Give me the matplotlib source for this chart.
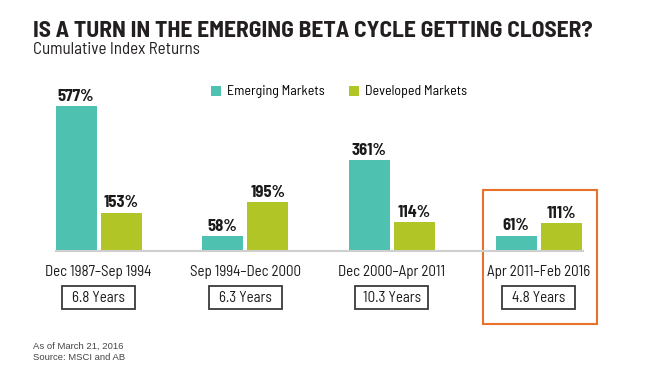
import matplotlib.pyplot as plt
from matplotlib.patches import Rectangle
import matplotlib.transforms as mtransforms

# data
periods = ["Dec 1987–Sep 1994", "Sep 1994–Dec 2000", "Dec 2000–Apr 2011", "Apr 2011–Feb 2016"]
years = ["6.8 Years", "6.3 Years", "10.3 Years", "4.8 Years"]
emerging = [577, 58, 361, 61]
developed = [153, 195, 114, 111]

em_color = "#4fc1b1"
dm_color = "#b2c526"
orange = "#e8712b"

plt.rcParams["font.family"] = ["Barlow Semi Condensed", "DejaVu Sans"]

W, H = 651, 389
fig = plt.figure(figsize=(W / 100, H / 100), dpi=100)

# axes placed in pixel terms: baseline at y=251, left 56, right 583
ax_l, ax_r, ax_b, ax_t = 56, 583, 251, 60
ax = fig.add_axes([ax_l / W, 1 - ax_b / H, (ax_r - ax_l) / W, (ax_b - ax_t) / H])

unit = 146.7
x0 = 98.5
ax.set_xlim((ax_l - x0) / unit, (ax_r - x0) / unit)
px_per_pct = 145 / 577
ax.set_ylim(0, (ax_b - ax_t) / px_per_pct)

bw = 41 / unit
off = bw / 2 + 2 / unit
xs = list(range(len(periods)))
ax.bar([x - off for x in xs], emerging, width=bw, color=em_color, label="Emerging Markets")
ax.bar([x + off for x in xs], developed, width=bw, color=dm_color, label="Developed Markets")

for x, v in zip(xs, emerging):
    ax.text(x - off, v + 9, f"{v}%", ha="center", va="bottom", fontsize=12, fontweight="bold", color="#1a1a1a")
for x, v in zip(xs, developed):
    ax.text(x + off, v + 9, f"{v}%", ha="center", va="bottom", fontsize=12, fontweight="bold", color="#1a1a1a")

for s in ["top", "right", "left"]:
    ax.spines[s].set_visible(False)
ax.spines["bottom"].set_color("#cfcfcf")
ax.spines["bottom"].set_linewidth(1.5)
ax.set_yticks([])
ax.set_xticks(xs)
ax.set_xticklabels(periods, fontsize=10.8, color="#1a1a1a")
ax.tick_params(axis="x", length=0, pad=10)

trans = mtransforms.blended_transform_factory(ax.transData, ax.transAxes)
ah = ax_b - ax_t
bx_w = 73 / unit
for x, lab in zip(xs, years):
    y_top = (ax_b - 286) / ah
    y_bot = (ax_b - 309) / ah
    ax.add_patch(Rectangle((x - bx_w / 2, y_bot), bx_w, y_top - y_bot, transform=trans,
                           fill=False, edgecolor="#3a3a3a", linewidth=1.3, clip_on=False))
    ax.text(x, (y_top + y_bot) / 2, lab, transform=trans, ha="center", va="center",
            fontsize=10.8, color="#1a1a1a")

# orange highlight box around last period
ox0 = (483 - x0) / unit
ox1 = (597 - x0) / unit
oy0 = (ax_b - 324) / ah
oy1 = (ax_b - 190) / ah
ax.add_patch(Rectangle((ox0, oy0), ox1 - ox0, oy1 - oy0, transform=trans, fill=False,
                       edgecolor=orange, linewidth=1.5, clip_on=False))

leg = fig.legend(loc="center", bbox_to_anchor=(339 / W, 1 - 92 / H), ncol=2, frameon=False,
                 fontsize=10, handlelength=0.7, handleheight=0.7, handletextpad=0.4,
                 columnspacing=1.8)

fig.text(33 / W, 1 - 31 / H, "IS A TURN IN THE EMERGING BETA CYCLE GETTING CLOSER?",
         fontsize=16.9, fontweight="bold", color="#231f20", va="center", ha="left")
fig.text(33 / W, 1 - 50 / H, "Cumulative Index Returns", fontsize=12.2, color="#231f20",
         va="center", ha="left")
fig.text(33 / W, 1 - 346 / H, "As of March 21, 2016", fontsize=6.8, color="#444444",
         va="center", ha="left", family=["Liberation Sans", "DejaVu Sans"])
fig.text(33 / W, 1 - 357 / H, "Source: MSCI and AB", fontsize=6.8, color="#444444",
         va="center", ha="left", family=["Liberation Sans", "DejaVu Sans"])

fig.savefig("out.png", dpi=100)
